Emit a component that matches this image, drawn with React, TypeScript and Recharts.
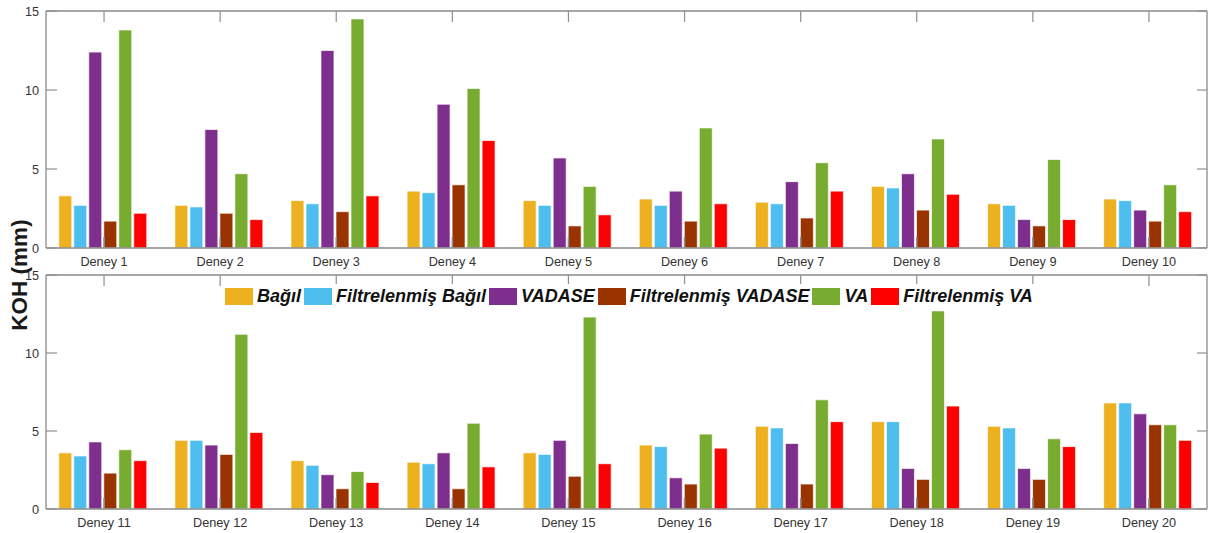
import React from "react";
import { BarChart, Bar, XAxis, YAxis, Legend } from "recharts";

const categoriesTop = ["Deney 1", "Deney 2", "Deney 3", "Deney 4", "Deney 5", "Deney 6", "Deney 7", "Deney 8", "Deney 9", "Deney 10"];
const categoriesBottom = ["Deney 11", "Deney 12", "Deney 13", "Deney 14", "Deney 15", "Deney 16", "Deney 17", "Deney 18", "Deney 19", "Deney 20"];

const bagil = [3.3, 2.7, 3.0, 3.6, 3.0, 3.1, 2.9, 3.9, 2.8, 3.1, 3.6, 4.4, 3.1, 3.0, 3.6, 4.1, 5.3, 5.6, 5.3, 6.8];
const filtBagil = [2.7, 2.6, 2.8, 3.5, 2.7, 2.7, 2.8, 3.8, 2.7, 3.0, 3.4, 4.4, 2.8, 2.9, 3.5, 4.0, 5.2, 5.6, 5.2, 6.8];
const vadase = [12.4, 7.5, 12.5, 9.1, 5.7, 3.6, 4.2, 4.7, 1.8, 2.4, 4.3, 4.1, 2.2, 3.6, 4.4, 2.0, 4.2, 2.6, 2.6, 6.1];
const filtVadase = [1.7, 2.2, 2.3, 4.0, 1.4, 1.7, 1.9, 2.4, 1.4, 1.7, 2.3, 3.5, 1.3, 1.3, 2.1, 1.6, 1.6, 1.9, 1.9, 5.4];
const va = [13.8, 4.7, 14.5, 10.1, 3.9, 7.6, 5.4, 6.9, 5.6, 4.0, 3.8, 11.2, 2.4, 5.5, 12.3, 4.8, 7.0, 12.7, 4.5, 5.4];
const filtVa = [2.2, 1.8, 3.3, 6.8, 2.1, 2.8, 3.6, 3.4, 1.8, 2.3, 3.1, 4.9, 1.7, 2.7, 2.9, 3.9, 5.6, 6.6, 4.0, 4.4];

const yTicks = [0, 5, 10, 15];

const seriesKeys = ["bagil", "filtBagil", "vadase", "filtVadase", "va", "filtVa"];
const seriesNames = ["Bağıl", "Filtrelenmiş Bağıl", "VADASE", "Filtrelenmiş VADASE", "VA", "Filtrelenmiş VA"];
const seriesColors = ["#EDB120", "#4DBEEE", "#7E2F8E", "#993300", "#77AC30", "#FF0000"];
const seriesValues = [bagil, filtBagil, vadase, filtVadase, va, filtVa];

function buildRows(cats: string[], offset: number) {
  return cats.map((name, i) => {
    const row: Record<string, any> = { name };
    seriesKeys.forEach((k, s) => {
      row[k] = seriesValues[s][offset + i];
    });
    return row;
  });
}

const topData = buildRows(categoriesTop, 0);
const bottomData = buildRows(categoriesBottom, 10);

const FONT = '"Liberation Sans", Arial, Helvetica, sans-serif';
const AXIS = "#8a8a8a";
const TICK = "#8f8f8f";
const TXT = "#333333";
const TL = 11;

const BottomTick = (props: any) => {
  const { x, y, payload } = props;
  return (
    <g>
      <line x1={x} y1={y} x2={x} y2={y - TL} stroke={TICK} strokeWidth={1.6} />
      <text x={x} y={y + 18} textAnchor="middle" fontSize={12.7} fill={TXT} fontFamily={FONT}>
        {payload.value}
      </text>
    </g>
  );
};

const TopTick = (props: any) => {
  const { x, y } = props;
  return <line x1={x} y1={y} x2={x} y2={y + TL} stroke={TICK} strokeWidth={1.2} />;
};

const LeftTick = (props: any) => {
  const { x, y, payload } = props;
  return (
    <g>
      <line x1={x} y1={y} x2={x + TL} y2={y} stroke={TICK} strokeWidth={1.2} />
      <text x={x - 7} y={y + 4.5} textAnchor="end" fontSize={12.7} fill={TXT} fontFamily={FONT}>
        {payload.value}
      </text>
    </g>
  );
};

const RightTick = (props: any) => {
  const { x, y } = props;
  return <line x1={x} y1={y} x2={x - 10} y2={y} stroke={TICK} strokeWidth={1.2} />;
};

const LegendContent = () => (
  <div
    style={{
      display: "flex",
      alignItems: "center",
      background: "#ffffff",
      padding: "2px 2px 5px 4px",
      fontFamily: FONT,
      whiteSpace: "nowrap",
    }}
  >
    {seriesNames.map((n, i) => (
      <div key={n} style={{ display: "flex", alignItems: "center" }}>
        <div style={{ width: 28, height: 17, background: seriesColors[i], marginRight: 4 }} />
        <span
          style={{
            fontSize: 18,
            fontWeight: "bold",
            fontStyle: "italic",
            color: "#111111",
            marginRight: 3,
            lineHeight: "20px",
          }}
        >
          {n}
        </span>
      </div>
    ))}
  </div>
);

function Panel({ data, height, marginTop, xAxisHeight, legend }: any) {
  return (
    <BarChart
      width={1209}
      height={height}
      data={data}
      margin={{ top: marginTop, right: 1, left: 0, bottom: 0 }}
      barCategoryGap="11%"
      barGap={2}
    >
      <XAxis
        xAxisId="top"
        dataKey="name"
        orientation="top"
        height={1}
        tickSize={0}
        tickMargin={0}
        interval={0}
        tick={(p: any) => <TopTick {...p} />}
        axisLine={{ stroke: AXIS, strokeWidth: 1.3 }}
        tickLine={false}
      />
      <YAxis
        width={46}
        domain={[0, 15]}
        ticks={yTicks}
        interval={0}
        allowDataOverflow
        tickSize={0}
        tickMargin={0}
        tick={(p: any) => <LeftTick {...p} />}
        axisLine={{ stroke: AXIS, strokeWidth: 1.3 }}
        tickLine={false}
      />
      <YAxis
        yAxisId="right"
        orientation="right"
        width={1}
        domain={[0, 15]}
        ticks={yTicks}
        interval={0}
        allowDataOverflow
        tickSize={0}
        tickMargin={0}
        tick={(p: any) => <RightTick {...p} />}
        axisLine={{ stroke: AXIS, strokeWidth: 1.3 }}
        tickLine={false}
      />
      {legend && (
        <Legend
          layout="horizontal"
          verticalAlign="middle"
          align="center"
          content={() => <LegendContent />}
          wrapperStyle={{ position: "absolute", left: 221, top: 14, width: "auto", height: "auto" }}
        />
      )}
      {seriesKeys.map((k, i) => (
        <Bar
          key={k}
          dataKey={k}
          name={seriesNames[i]}
          fill={seriesColors[i]}
          stroke="#ffffff"
          strokeOpacity={0.7}
          strokeWidth={1}
          isAnimationActive={false}
        />
      ))}
      <XAxis
        dataKey="name"
        height={xAxisHeight}
        tickSize={0}
        tickMargin={0}
        interval={0}
        tick={(p: any) => <BottomTick {...p} />}
        axisLine={{ stroke: AXIS, strokeWidth: 1.3 }}
        tickLine={false}
      />
    </BarChart>
  );
}

export default function App() {
  return (
    <div style={{ position: "absolute", left: 0, top: 0, width: 1209, height: 533, background: "#ffffff", fontFamily: FONT }}>
      <div style={{ position: "absolute", left: 0, top: 0 }}>
        <Panel data={topData} height={270} marginTop={10} xAxisHeight={22} legend={false} />
      </div>
      <div style={{ position: "absolute", left: 0, top: 270 }}>
        <Panel data={bottomData} height={263} marginTop={4} xAxisHeight={24} legend={true} />
      </div>
      <svg
        width={40}
        height={533}
        style={{ position: "absolute", left: 0, top: 0, pointerEvents: "none", overflow: "visible" }}
      >
        <text
          x={19}
          y={275}
          transform="rotate(-90 19 275)"
          textAnchor="middle"
          dominantBaseline="central"
          fontSize={22.5}
          fontWeight="bold"
          fill="#1a1a1a"
          fontFamily={FONT}
        >
          KOH (mm)
        </text>
      </svg>
    </div>
  );
}
